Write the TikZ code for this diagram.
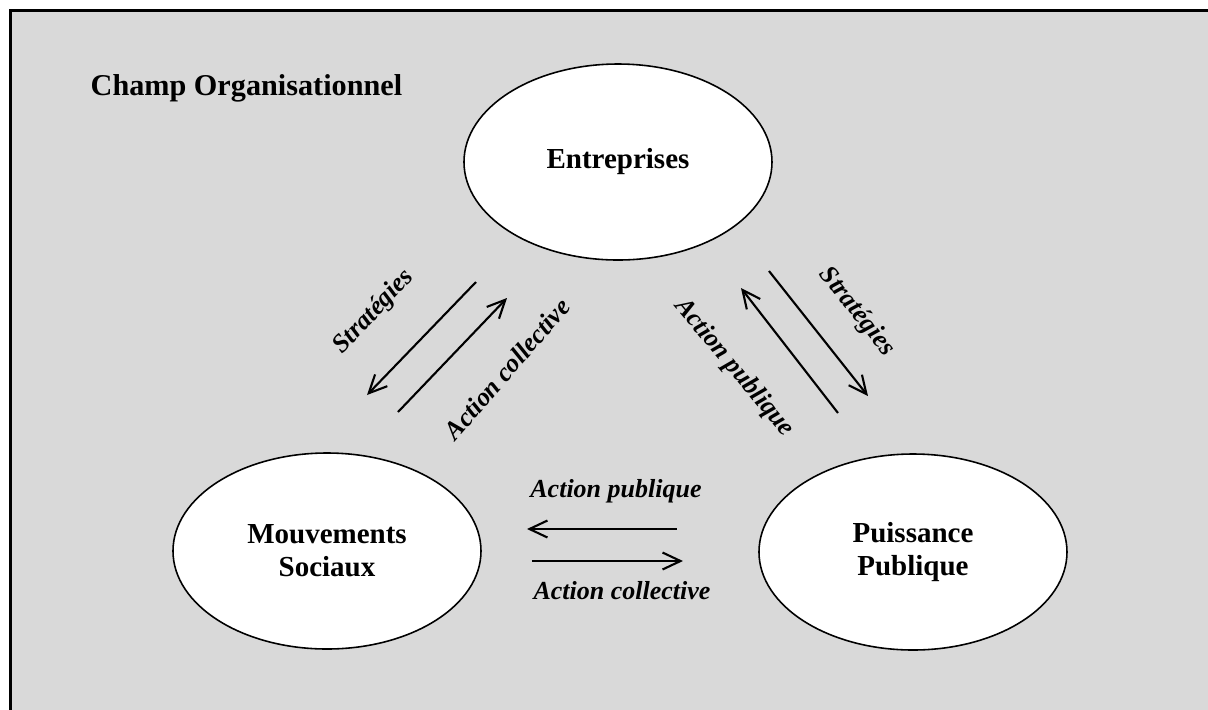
\documentclass[tikz,border=0pt]{standalone}
\usepackage{fontspec}
\setmainfont{Liberation Serif}
\usepackage{tikz}
\usetikzlibrary{shapes.geometric,arrows.meta}
\definecolor{fondgris}{RGB}{217,217,217}

\begin{document}
\begin{tikzpicture}[x=1cm,y=-1cm,
    acteur/.style={draw,ellipse,fill=white,line width=0.45pt,minimum width=3.08cm,minimum height=1.96cm,inner sep=0pt,align=center,font=\fontsize{8.25}{9.4}\selectfont\bfseries},
    flux/.style={line width=0.6pt,-{Straight Barb[length=1.8mm,width=1.7mm]}},
    etiq/.style={font=\fontsize{7.4}{8}\selectfont\bfseries\itshape,inner sep=0pt}]
        \useasboundingbox (0,0) rectangle (12.08,7.09);
        \draw[fill=fondgris,line width=0.85pt] (0.105,0.105) rectangle (12.4,7.4);
        \node[anchor=base west,inner sep=0pt,font=\fontsize{8.6}{10}\selectfont\bfseries] (champ) at (0.90,0.95) {Champ Organisationnel};
        \node[acteur] (entreprises) at (6.18,1.62) {Entreprises};
        \node[acteur] (mouvements) at (3.27,5.51) {Mouvements\\Sociaux};
        \node[acteur] (puissance) at (9.13,5.52) {Puissance\\Publique};
        % fleches entre entreprises et mouvements
        \coordinate (sg1) at (4.76,2.82);
        \coordinate (sg2) at (3.67,3.95);
        \coordinate (ac1) at (3.98,4.12);
        \coordinate (ac2) at (5.07,2.98);
        \draw[flux] (sg1) -- (sg2);
        \draw[flux] (ac1) -- (ac2);
        \node[etiq,rotate=47] (strat1) at (3.74,3.12) {Stratégies};
        \node[etiq,rotate=49] (coll1) at (5.07,3.69) {Action collective};
        % fleches entre entreprises et puissance publique
        \coordinate (ap1) at (8.38,4.13);
        \coordinate (ap2) at (7.41,2.88);
        \coordinate (sd1) at (7.69,2.71);
        \coordinate (sd2) at (8.68,3.96);
        \draw[flux] (ap1) -- (ap2);
        \draw[flux] (sd1) -- (sd2);
        \node[etiq,rotate=-50] (publ1) at (7.34,3.68) {Action publique};
        \node[etiq,rotate=-51] (strat2) at (8.57,3.12) {Stratégies};
        % fleches entre mouvements et puissance publique
        \coordinate (hp1) at (6.77,5.29);
        \coordinate (hp2) at (5.27,5.29);
        \coordinate (hc1) at (5.32,5.61);
        \coordinate (hc2) at (6.83,5.61);
        \draw[flux] (hp1) -- (hp2);
        \draw[flux] (hc1) -- (hc2);
        \node[etiq,anchor=base] (publ2) at (6.16,4.97) {Action publique};
        \node[etiq,anchor=base] (coll2) at (6.22,5.99) {Action collective};
      \end{tikzpicture}
\end{document}
